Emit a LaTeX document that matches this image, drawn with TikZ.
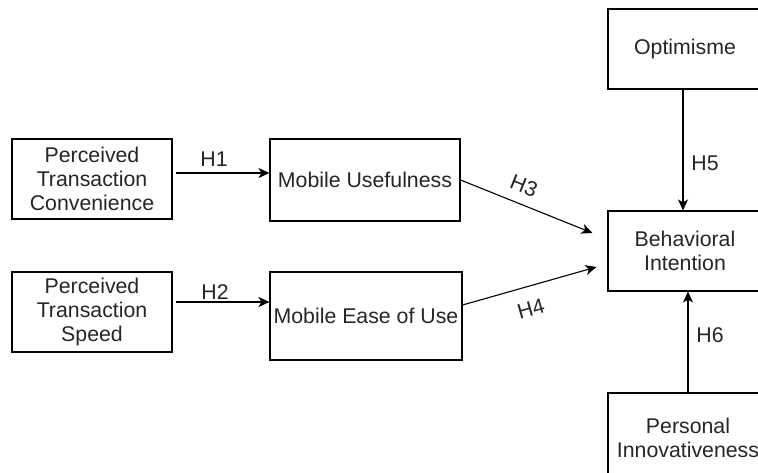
\documentclass[tikz,border=0pt]{standalone}
\usepackage{fontspec}
\setmainfont{Liberation Sans}
\usetikzlibrary{arrows.meta}
\begin{document}
\begin{tikzpicture}[x=1pt,y=-1pt,
  box/.style={draw=black,line width=1.1pt,fill=white,inner sep=0pt,align=center,
    font=\fontsize{21.3}{24}\selectfont,text=black!85},
  arr/.style={line width=1.1pt,-{Stealth[length=11pt,width=10pt,inset=3pt]}},
  lab/.style={font=\fontsize{21.3}{24}\selectfont,text=black!85,inner sep=0pt}]
\useasboundingbox (0,0) rectangle (758,473);
\clip (0,0) rectangle (758,473);
\fill[white] (0,0) rectangle (758,473);
\node[box,minimum width=160pt,minimum height=80pt] (ptc) at (92,179) {Perceived\\Transaction\\Convenience};
\node[box,minimum width=160pt,minimum height=80pt] (pts) at (92,312) {Perceived\\Transaction\\Speed};
\node[box,minimum width=190pt,minimum height=82pt] (mu) at (365,180) {Mobile Usefulness};
\node[box,minimum width=192pt,minimum height=88pt] (meu) at (366,316) {Mobile Ease of Use};
\node[box,minimum width=154pt,minimum height=80pt] (opt) at (685,49) {Optimisme};
\node[box,minimum width=154pt,minimum height=80pt] (bi) at (685,251) {Behavioral\\Intention};
\node[box,minimum width=160pt,minimum height=90pt] (pi) at (688,438) {Personal\\Innovativeness};
\draw[arr] ([xshift=3pt,yshift=6pt]ptc.east) -- ([yshift=7pt]mu.west);
\draw[arr] ([xshift=3pt,yshift=10pt]pts.east) -- ([yshift=14pt]meu.west);
\draw[arr] (mu.east) -- ([xshift=-15pt,yshift=18pt]bi.west);
\draw[arr] ([yshift=11pt]meu.east) -- ([xshift=-11pt,yshift=-16pt]bi.west);
\draw[arr] ([xshift=-2pt]opt.south) -- ([xshift=-2pt]bi.north);
\draw[arr] (pi.north) -- ([xshift=3pt]bi.south);
\node[lab] (h1) at (214,159) {H1};
\node[lab] (h2) at (215,292) {H2};
\node[lab,rotate=-22] (h3) at (524,186) {H3};
\node[lab,rotate=16] (h4) at (531,309) {H4};
\node[lab] (h5) at (705,163) {H5};
\node[lab] (h6) at (710,335) {H6};
\end{tikzpicture}
\end{document}
